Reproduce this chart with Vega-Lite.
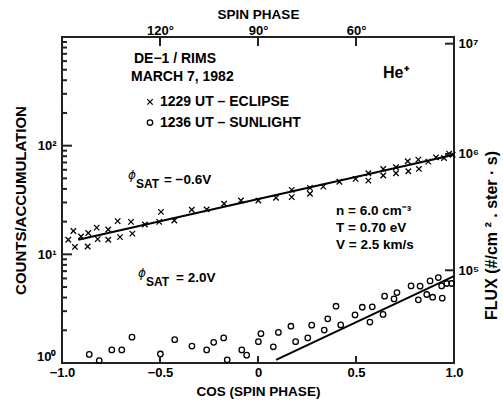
{
  "$schema": "https://vega.github.io/schema/vega-lite/v6.json",
  "width": 392,
  "height": 326,
  "autosize": {"type": "none"},
  "padding": {"left": 62, "top": 37, "right": 49, "bottom": 45},
  "background": "white",
  "config": {
    "view": {"stroke": "#222222", "strokeWidth": 2, "strokeOpacity": 1},
    "font": "Liberation Sans",
    "axis": {
      "grid": false,
      "domain": false,
      "ticks": false,
      "labelColor": "black",
      "labelFont": "Liberation Sans",
      "labelFontWeight": "bold",
      "labelFontSize": 13,
      "titleFont": "Liberation Sans",
      "titleFontWeight": "bold",
      "titleFontSize": 13.5,
      "titleColor": "black"
    }
  },
  "datasets": {
    "eclipse": [
      {"cos": -0.968, "counts": 13.6}, {"cos": -0.942, "counts": 16.4}, {"cos": -0.934, "counts": 11.7},
      {"cos": -0.903, "counts": 14.6}, {"cos": -0.866, "counts": 15.7}, {"cos": -0.869, "counts": 11.8},
      {"cos": -0.823, "counts": 17.6}, {"cos": -0.818, "counts": 13.8}, {"cos": -0.764, "counts": 16.9},
      {"cos": -0.764, "counts": 13.6}, {"cos": -0.716, "counts": 20.2}, {"cos": -0.704, "counts": 14.4},
      {"cos": -0.648, "counts": 19.9}, {"cos": -0.641, "counts": 15.5}, {"cos": -0.577, "counts": 18.8},
      {"cos": -0.504, "counts": 19.9}, {"cos": -0.495, "counts": 24.6}, {"cos": -0.427, "counts": 20.5},
      {"cos": -0.338, "counts": 25.7}, {"cos": -0.262, "counts": 25.9}, {"cos": -0.173, "counts": 29.2},
      {"cos": -0.087, "counts": 31.3}, {"cos": 0.002, "counts": 31.3}, {"cos": 0.092, "counts": 33.1},
      {"cos": 0.172, "counts": 39.2}, {"cos": 0.172, "counts": 33.6}, {"cos": 0.265, "counts": 40.9},
      {"cos": 0.265, "counts": 36.1}, {"cos": 0.333, "counts": 42.0}, {"cos": 0.415, "counts": 46.5},
      {"cos": 0.498, "counts": 49.5}, {"cos": 0.563, "counts": 55.7}, {"cos": 0.563, "counts": 47.7},
      {"cos": 0.639, "counts": 61.1}, {"cos": 0.639, "counts": 53.1}, {"cos": 0.704, "counts": 63.2},
      {"cos": 0.704, "counts": 55.7}, {"cos": 0.764, "counts": 71.8}, {"cos": 0.767, "counts": 58.1},
      {"cos": 0.818, "counts": 74.4}, {"cos": 0.821, "counts": 61.1}, {"cos": 0.869, "counts": 71.3},
      {"cos": 0.908, "counts": 78.1}, {"cos": 0.949, "counts": 77.1}, {"cos": 0.975, "counts": 84.5},
      {"cos": 0.993, "counts": 82.6}
    ],
    "sunlight": [
      {"cos": -0.861, "counts": 1.20}, {"cos": -0.810, "counts": 1.05}, {"cos": -0.746, "counts": 1.32},
      {"cos": -0.695, "counts": 1.32}, {"cos": -0.643, "counts": 1.73}, {"cos": -0.498, "counts": 1.21},
      {"cos": -0.425, "counts": 1.64}, {"cos": -0.337, "counts": 1.43}, {"cos": -0.262, "counts": 1.32},
      {"cos": -0.226, "counts": 1.55}, {"cos": -0.175, "counts": 1.70}, {"cos": -0.157, "counts": 1.07},
      {"cos": -0.083, "counts": 1.32}, {"cos": -0.058, "counts": 1.18}, {"cos": 0.002, "counts": 1.57},
      {"cos": 0.015, "counts": 1.86}, {"cos": 0.078, "counts": 1.41}, {"cos": 0.104, "counts": 1.91},
      {"cos": 0.168, "counts": 2.18}, {"cos": 0.192, "counts": 1.57}, {"cos": 0.254, "counts": 1.70},
      {"cos": 0.274, "counts": 2.23}, {"cos": 0.338, "counts": 2.01}, {"cos": 0.356, "counts": 2.55},
      {"cos": 0.398, "counts": 3.33}, {"cos": 0.422, "counts": 2.24}, {"cos": 0.495, "counts": 2.77},
      {"cos": 0.532, "counts": 3.26}, {"cos": 0.571, "counts": 2.38}, {"cos": 0.583, "counts": 3.29},
      {"cos": 0.638, "counts": 2.80}, {"cos": 0.646, "counts": 4.12}, {"cos": 0.694, "counts": 3.89},
      {"cos": 0.709, "counts": 4.45}, {"cos": 0.781, "counts": 5.12}, {"cos": 0.818, "counts": 3.81},
      {"cos": 0.827, "counts": 5.09}, {"cos": 0.861, "counts": 4.27}, {"cos": 0.878, "counts": 5.69},
      {"cos": 0.891, "counts": 4.03}, {"cos": 0.920, "counts": 6.11}, {"cos": 0.937, "counts": 5.12},
      {"cos": 0.940, "counts": 3.95}, {"cos": 0.963, "counts": 5.39}, {"cos": 0.988, "counts": 5.39}
    ],
    "fits": [
      {"fit": "eclipse", "cos": -0.917, "counts": 13.6},
      {"fit": "eclipse", "cos": 1.0, "counts": 82.6},
      {"fit": "sunlight", "cos": 0.092, "counts": 1.07},
      {"fit": "sunlight", "cos": 1.0, "counts": 6.3}
    ],
    "ticks": [
      {"tick": "L10", "cos": -1, "counts": 10}, {"tick": "L10", "cos": -0.949, "counts": 10},
      {"tick": "L100", "cos": -1, "counts": 100}, {"tick": "L100", "cos": -0.949, "counts": 100},
      {"tick": "m2", "cos": -1, "counts": 2}, {"tick": "m2", "cos": -0.9745, "counts": 2},
      {"tick": "m3", "cos": -1, "counts": 3}, {"tick": "m3", "cos": -0.9745, "counts": 3},
      {"tick": "m4", "cos": -1, "counts": 4}, {"tick": "m4", "cos": -0.9745, "counts": 4},
      {"tick": "m5", "cos": -1, "counts": 5}, {"tick": "m5", "cos": -0.9745, "counts": 5},
      {"tick": "m6", "cos": -1, "counts": 6}, {"tick": "m6", "cos": -0.9745, "counts": 6},
      {"tick": "m7", "cos": -1, "counts": 7}, {"tick": "m7", "cos": -0.9745, "counts": 7},
      {"tick": "m8", "cos": -1, "counts": 8}, {"tick": "m8", "cos": -0.9745, "counts": 8},
      {"tick": "m9", "cos": -1, "counts": 9}, {"tick": "m9", "cos": -0.9745, "counts": 9},
      {"tick": "m20", "cos": -1, "counts": 20}, {"tick": "m20", "cos": -0.9745, "counts": 20},
      {"tick": "m30", "cos": -1, "counts": 30}, {"tick": "m30", "cos": -0.9745, "counts": 30},
      {"tick": "m40", "cos": -1, "counts": 40}, {"tick": "m40", "cos": -0.9745, "counts": 40},
      {"tick": "m50", "cos": -1, "counts": 50}, {"tick": "m50", "cos": -0.9745, "counts": 50},
      {"tick": "m60", "cos": -1, "counts": 60}, {"tick": "m60", "cos": -0.9745, "counts": 60},
      {"tick": "m70", "cos": -1, "counts": 70}, {"tick": "m70", "cos": -0.9745, "counts": 70},
      {"tick": "m80", "cos": -1, "counts": 80}, {"tick": "m80", "cos": -0.9745, "counts": 80},
      {"tick": "m90", "cos": -1, "counts": 90}, {"tick": "m90", "cos": -0.9745, "counts": 90},
      {"tick": "m200", "cos": -1, "counts": 200}, {"tick": "m200", "cos": -0.9745, "counts": 200},
      {"tick": "m300", "cos": -1, "counts": 300}, {"tick": "m300", "cos": -0.9745, "counts": 300},
      {"tick": "m400", "cos": -1, "counts": 400}, {"tick": "m400", "cos": -0.9745, "counts": 400},
      {"tick": "m500", "cos": -1, "counts": 500}, {"tick": "m500", "cos": -0.9745, "counts": 500},
      {"tick": "m600", "cos": -1, "counts": 600}, {"tick": "m600", "cos": -0.9745, "counts": 600},
      {"tick": "m700", "cos": -1, "counts": 700}, {"tick": "m700", "cos": -0.9745, "counts": 700},
      {"tick": "m800", "cos": -1, "counts": 800}, {"tick": "m800", "cos": -0.9745, "counts": 800},
      {"tick": "m900", "cos": -1, "counts": 900}, {"tick": "m900", "cos": -0.9745, "counts": 900},
      {"tick": "Bm05", "cos": -0.5, "counts": 1}, {"tick": "Bm05", "cos": -0.5, "counts": 1.159},
      {"tick": "B0", "cos": 0, "counts": 1}, {"tick": "B0", "cos": 0, "counts": 1.159},
      {"tick": "B05", "cos": 0.5, "counts": 1}, {"tick": "B05", "cos": 0.5, "counts": 1.159},
      {"tick": "T120", "cos": -0.5, "counts": 1000}, {"tick": "T120", "cos": -0.5, "counts": 826},
      {"tick": "T90", "cos": 0, "counts": 1000}, {"tick": "T90", "cos": 0, "counts": 826},
      {"tick": "T60", "cos": 0.5, "counts": 1000}, {"tick": "T60", "cos": 0.5, "counts": 826},
      {"tick": "R5", "cos": 1, "counts": 7.13}, {"tick": "R5", "cos": 0.954, "counts": 7.13},
      {"tick": "R6", "cos": 1, "counts": 83.9}, {"tick": "R6", "cos": 0.954, "counts": 83.9},
      {"tick": "R7", "cos": 1, "counts": 868}, {"tick": "R7", "cos": 0.954, "counts": 868}
    ],
    "annotations": [
      {"cos": 0.398, "counts": 25.3, "text": "n = 6.0 cm⁻³"},
      {"cos": 0.398, "counts": 17.5, "text": "T = 0.70 eV"},
      {"cos": 0.398, "counts": 12.1, "text": "V = 2.5 km/s"},
      {"cos": -0.480, "counts": 48.8, "text": "= −0.6V"},
      {"cos": -0.418, "counts": 6.02, "text": "= 2.0V"}
    ],
    "header": [
      {"cos": -0.633, "counts": 628, "text": "DE−1 / RIMS"},
      {"cos": -0.648, "counts": 430, "text": "MARCH 7, 1982"},
      {"cos": -0.5, "counts": 253, "text": "1229 UT – ECLIPSE"},
      {"cos": -0.5, "counts": 163, "text": "1236 UT – SUNLIGHT"}
    ],
    "subscripts": [
      {"cos": -0.622, "counts": 44.8, "text": "SAT"},
      {"cos": -0.571, "counts": 5.53, "text": "SAT"}
    ],
    "phis": [
      {"cos": -0.663, "counts": 54.2, "text": "ϕ"},
      {"cos": -0.612, "counts": 6.69, "text": "ϕ"}
    ],
    "ion": [
      {"cos": 0.638, "counts": 468, "text": "He⁺"}
    ],
    "legendEclipse": [{"cos": -0.551, "counts": 253}],
    "legendSunlight": [{"cos": -0.551, "counts": 163}]
  },
  "layer": [
    {
      "data": {"name": "eclipse"},
      "mark": {"type": "point", "shape": "M -1 -1 L 1 1 M -1 1 L 1 -1", "filled": false, "color": "black", "size": 30, "strokeWidth": 1.3, "opacity": 1},
      "encoding": {
        "x": {
          "field": "cos", "type": "quantitative",
          "scale": {"domain": [-1, 1], "nice": false, "zero": false},
          "axis": {
            "orient": "bottom",
            "values": [-1, -0.5, 0, 0.5, 1],
            "labelExpr": "datum.value == 0 ? '0' : replace(format(datum.value, '.1f'), '-', '−')",
            "labelPadding": 3,
            "labelFlush": false,
            "title": "COS (SPIN PHASE)",
            "titlePadding": 5
          }
        },
        "y": {
          "field": "counts", "type": "quantitative",
          "scale": {"type": "log", "domain": [1, 1000], "nice": false},
          "axis": {
            "orient": "left",
            "values": [1, 10, 100, 1000],
            "labelExpr": "datum.value == 1 ? '10⁰' : datum.value == 10 ? '10¹' : datum.value == 100 ? '10²' : ''",
            "labelPadding": 6,
            "labelFlush": true,
            "labelOverlap": false,
            "title": "COUNTS/ACCUMULATION",
            "titleFontSize": 15,
            "titlePadding": 8
          }
        }
      }
    },
    {
      "data": {"name": "sunlight"},
      "mark": {"type": "point", "shape": "circle", "filled": false, "color": "black", "size": 30, "strokeWidth": 1.3, "opacity": 1},
      "encoding": {
        "x": {
          "field": "cos", "type": "quantitative",
          "axis": {
            "orient": "top",
            "values": [-0.5, 0, 0.5],
            "labelExpr": "datum.value == -0.5 ? '120°' : datum.value == 0 ? '90°' : '60°'",
            "labelPadding": 0,
            "title": "SPIN PHASE",
            "titlePadding": 3
          }
        },
        "y": {
          "field": "counts", "type": "quantitative",
          "axis": {
            "orient": "right",
            "values": [7.13, 83.9, 868],
            "labelExpr": "datum.value < 10 ? '10⁵' : datum.value < 100 ? '10⁶' : '10⁷'",
            "labelPadding": 4,
            "labelFlush": false,
            "title": "FLUX (#/cm ²  .  ster · s)",
            "titleFontSize": 16,
            "titleAngle": 270,
            "titlePadding": 21,
            "titleY": 198
          }
        }
      }
    },
    {
      "data": {"name": "ticks"},
      "mark": {"type": "line", "color": "#222222", "strokeWidth": 2, "opacity": 1},
      "encoding": {
        "x": {"field": "cos", "type": "quantitative", "axis": null},
        "y": {"field": "counts", "type": "quantitative", "axis": null},
        "detail": {"field": "tick"}
      }
    },
    {
      "data": {"name": "fits"},
      "mark": {"type": "line", "color": "black", "strokeWidth": 2},
      "encoding": {
        "x": {"field": "cos", "type": "quantitative", "axis": null},
        "y": {"field": "counts", "type": "quantitative", "axis": null},
        "detail": {"field": "fit"}
      }
    },
    {
      "data": {"name": "legendEclipse"},
      "mark": {"type": "point", "shape": "M -1 -1 L 1 1 M -1 1 L 1 -1", "filled": false, "color": "black", "size": 30, "strokeWidth": 1.3, "opacity": 1},
      "encoding": {
        "x": {"field": "cos", "type": "quantitative", "axis": null},
        "y": {"field": "counts", "type": "quantitative", "axis": null}
      }
    },
    {
      "data": {"name": "legendSunlight"},
      "mark": {"type": "point", "shape": "circle", "filled": false, "color": "black", "size": 30, "strokeWidth": 1.3, "opacity": 1},
      "encoding": {
        "x": {"field": "cos", "type": "quantitative", "axis": null},
        "y": {"field": "counts", "type": "quantitative", "axis": null}
      }
    },
    {
      "data": {"name": "header"},
      "mark": {"type": "text", "align": "left", "baseline": "middle", "font": "Liberation Sans", "fontWeight": "bold", "fontSize": 14, "color": "black"},
      "encoding": {
        "x": {"field": "cos", "type": "quantitative", "axis": null},
        "y": {"field": "counts", "type": "quantitative", "axis": null},
        "text": {"field": "text"}
      }
    },
    {
      "data": {"name": "annotations"},
      "mark": {"type": "text", "align": "left", "baseline": "middle", "font": "Liberation Sans", "fontWeight": "bold", "fontSize": 13.5, "color": "black"},
      "encoding": {
        "x": {"field": "cos", "type": "quantitative", "axis": null},
        "y": {"field": "counts", "type": "quantitative", "axis": null},
        "text": {"field": "text"}
      }
    },
    {
      "data": {"name": "subscripts"},
      "mark": {"type": "text", "align": "left", "baseline": "middle", "font": "Liberation Sans", "fontWeight": "bold", "fontSize": 12, "color": "black"},
      "encoding": {
        "x": {"field": "cos", "type": "quantitative", "axis": null},
        "y": {"field": "counts", "type": "quantitative", "axis": null},
        "text": {"field": "text"}
      }
    },
    {
      "data": {"name": "phis"},
      "mark": {"type": "text", "align": "left", "baseline": "middle", "font": "DejaVu Sans", "fontStyle": "italic", "fontSize": 12, "color": "black"},
      "encoding": {
        "x": {"field": "cos", "type": "quantitative", "axis": null},
        "y": {"field": "counts", "type": "quantitative", "axis": null},
        "text": {"field": "text"}
      }
    },
    {
      "data": {"name": "ion"},
      "mark": {"type": "text", "align": "left", "baseline": "middle", "font": "Liberation Sans", "fontWeight": "bold", "fontSize": 16, "color": "black"},
      "encoding": {
        "x": {"field": "cos", "type": "quantitative", "axis": null},
        "y": {"field": "counts", "type": "quantitative", "axis": null},
        "text": {"field": "text"}
      }
    }
  ],
  "resolve": {"axis": {"x": "independent", "y": "independent"}}
}
